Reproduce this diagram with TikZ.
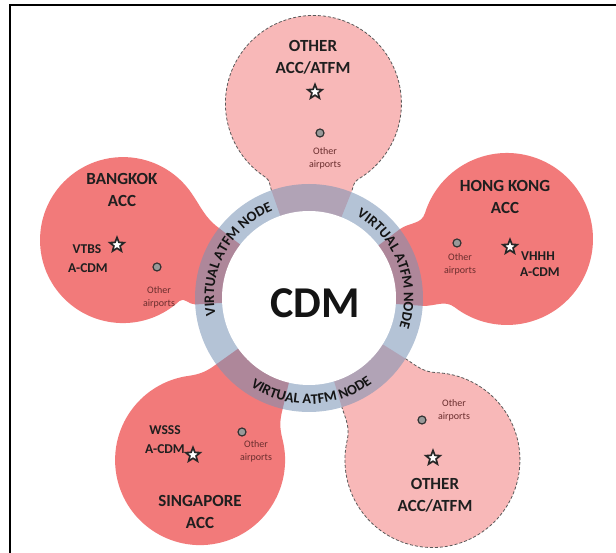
\documentclass[tikz,border=0pt]{standalone}
\usepackage{fontspec}
\setmainfont{Carlito}
\usetikzlibrary{shapes.geometric,decorations.text}
\definecolor{petalsolid}{RGB}{242,122,122}
\definecolor{petallight}{RGB}{248,184,184}
\definecolor{ringc}{RGB}{119,146,182}
\definecolor{smalltxt}{RGB}{105,45,45}
\newcommand{\ringfont}{\bfseries\fontsize{14.5}{14.5}\selectfont}
% #1 direction, #2 distance of circle centre, #3 radius, #4 fill style, #5 border style,
% #6 / #7 angles where the neck leaves the circle (left / right side)
\newcommand{\petalshape}[7]{%
  \pgfmathsetmacro{\tax}{#2+#3*cos(#6)}\pgfmathsetmacro{\tay}{#3*sin(#6)}%
  \pgfmathsetmacro{\tbx}{#2+#3*cos(#7)}\pgfmathsetmacro{\tby}{#3*sin(#7)}%
  \pgfmathsetmacro{\la}{0.4*veclen(\tax-106.75,\tay-40)}%
  \pgfmathsetmacro{\lb}{0.4*veclen(\tbx-106.75,\tby-40)}%
  \begin{scope}[rotate=#1]
    \path[#4] (80.6,30.2) -- (106.75,40)
      .. controls ({106.75+0.94*\la},{40+0.33*\la}) and ({\tax-\la*sin(#6)},{\tay+\la*cos(#6)}) .. (\tax,\tay)
      arc[start angle=#6, end angle=-#7, radius=#3]
      .. controls ({\tbx-\lb*sin(#7)},{-\tby-\lb*cos(#7)}) and ({106.75+0.94*\lb},{-40-0.33*\lb}) .. (106.75,-40)
      -- (80.6,-30.2) -- cycle;
    \path[#5] (106.75,40)
      .. controls ({106.75+0.94*\la},{40+0.33*\la}) and ({\tax-\la*sin(#6)},{\tay+\la*cos(#6)}) .. (\tax,\tay)
      arc[start angle=#6, end angle=-#7, radius=#3]
      .. controls ({\tbx-\lb*sin(#7)},{-\tby-\lb*cos(#7)}) and ({106.75+0.94*\lb},{-40-0.33*\lb}) .. (106.75,-40);
  \end{scope}}
\tikzset{
  solidpetal/.style={fill=petalsolid},
  lightpetal/.style={fill=petallight},
  noborder/.style={},
  dashborder/.style={draw=black!65, dash pattern=on 3pt off 2pt, line width=0.8pt},
  titletxt/.style={font=\bfseries\fontsize{17}{22}\selectfont, align=center, text=black!88, inner sep=0pt},
  codetxt/.style={font=\bfseries\fontsize{13.5}{18}\selectfont, text=black!88, inner sep=0pt},
  smalltext/.style={font=\fontsize{10}{13}\selectfont, text=smalltxt, inner sep=0pt, align=center},
  starmark/.style={star, star points=5, star point ratio=2.3, draw=black!85, fill=white, line width=1.7pt, minimum size=15pt, inner sep=0pt},
  airport/.style={circle, draw=black!80, fill=black!40, line width=1.2pt, minimum size=8pt, inner sep=0pt},
  ringtext/.style={decorate, decoration={text along path, text align=center, text color=black!92, text={|\ringfont|VIRTUAL ATFM NODE}}}
}
\begin{document}
\begin{tikzpicture}[x=1pt,y=1pt]
\useasboundingbox (-309,-255) rectangle (307,298);
\fill[white] (-309,-255) rectangle (307,298);
% frame
\draw[line width=2.5pt] (-299,-255) -- (-299,293) -- (307,293);
% petals
\petalshape{88.7}{194.6}{88}{lightpetal}{dashborder}{148}{148}
\petalshape{162.7}{194.8}{83}{solidpetal}{noborder}{150}{128}
\petalshape{16.6}{206.6}{86}{solidpetal}{noborder}{146}{144}
\petalshape{236.1}{195.3}{85}{solidpetal}{noborder}{138}{138}
\petalshape{307.3}{203.7}{87.5}{lightpetal}{dashborder}{140}{140}
% ring
\fill[ringc, fill opacity=0.55] (0,0) circle (114);
\fill[white] (0,0) circle (87);
\path[ringtext] (201.5:95) arc[start angle=201.5, end angle=101.5, radius=95];
\path[ringtext] (71:95) arc[start angle=71, end angle=-29, radius=95];
\path[ringtext] (221.5:106) arc[start angle=221.5, end angle=321.5, radius=106];
\node[font=\bfseries\fontsize{44}{44}\selectfont, text=black!92] (cdm) at (6,-5) {CDM};
% top other ACC/ATFM
\node[titletxt] (t1) at (4,240.5) {OTHER\\ACC/ATFM};
\node[starmark] (s1) at (6,206) {};
\node[airport] (a1) at (11,165) {};
\node[smalltext] (o1) at (16,140) {Other\\airports};
% Bangkok
\node[titletxt] (t2) at (-187,108) {BANGKOK\\ACC};
\node[starmark] (s2) at (-192,53) {};
\node[codetxt] (c2a) at (-222,49) {VTBS};
\node[codetxt] (c2b) at (-221,30) {A-CDM};
\node[airport] (a2) at (-152,31) {};
\node[smalltext] (o2) at (-150,1) {Other\\airports};
% Hong Kong
\node[titletxt] (t3) at (196,101.5) {HONG KONG\\ACC};
\node[starmark] (s3) at (201,51) {};
\node[codetxt] (c3a) at (229,42) {VHHH};
\node[codetxt] (c3b) at (231,26) {A-CDM};
\node[airport] (a3) at (148,55) {};
\node[smalltext] (o3) at (151,34) {Other\\airports};
% Singapore
\node[titletxt] (t4) at (-109,-214) {SINGAPORE\\ACC};
\node[starmark] (s4) at (-116,-157) {};
\node[codetxt] (c4a) at (-144,-132) {WSSS};
\node[codetxt] (c4b) at (-144,-151) {A-CDM};
\node[airport] (a4) at (-67,-134) {};
\node[smalltext] (o4) at (-53,-153) {Other\\airports};
% bottom other ACC/ATFM
\node[titletxt] (t5) at (126,-197) {OTHER\\ACC/ATFM};
\node[starmark] (s5) at (124,-160) {};
\node[airport] (a5) at (113,-122) {};
\node[smalltext] (o5) at (145,-112) {Other\\airports};
\end{tikzpicture}
\end{document}
